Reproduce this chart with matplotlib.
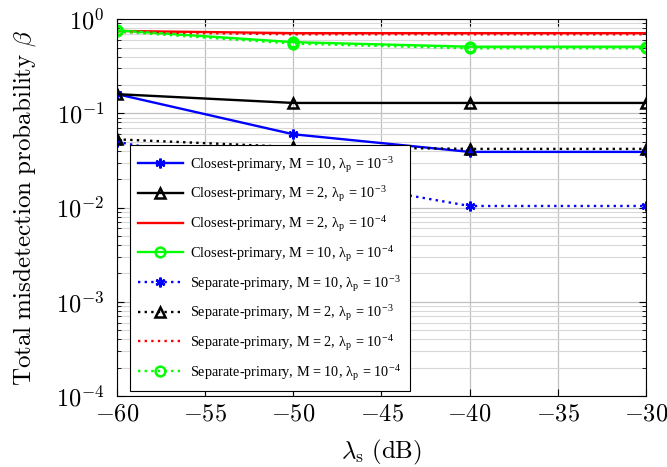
import numpy as np
import matplotlib
matplotlib.use('Agg')
import matplotlib.pyplot as plt
from matplotlib.ticker import FixedLocator, FuncFormatter, LogLocator, NullFormatter

plt.rcParams['font.family'] = ['Liberation Serif', 'DejaVu Serif']
plt.rcParams['mathtext.fontset'] = 'cm'

# lambda_s in dB
lam_s = [-60, -50, -40, -30]

# closest-primary
closest_m10_p3 = [0.16, 0.060, 0.039, 0.039]
closest_m2_p3 = [0.16, 0.129, 0.129, 0.129]
closest_m2_p4 = [0.75, 0.71, 0.71, 0.71]
closest_m10_p4 = [0.76, 0.57, 0.51, 0.51]

# separate-primary
separate_m10_p3 = [0.050, 0.022, 0.0104, 0.0104]
separate_m2_p3 = [0.053, 0.044, 0.042, 0.042]
separate_m2_p4 = [0.73, 0.69, 0.69, 0.69]
separate_m10_p4 = [0.74, 0.55, 0.49, 0.49]

labels = [
    r'Closest-primary, M = 10, λ$_\mathregular{p}$ = 10$^\mathregular{-3}$',
    r'Closest-primary, M = 2, λ$_\mathregular{p}$ = 10$^\mathregular{-3}$',
    r'Closest-primary, M = 2, λ$_\mathregular{p}$ = 10$^\mathregular{-4}$',
    r'Closest-primary, M = 10, λ$_\mathregular{p}$ = 10$^\mathregular{-4}$',
    r'Separate-primary, M = 10, λ$_\mathregular{p}$ = 10$^\mathregular{-3}$',
    r'Separate-primary, M = 2, λ$_\mathregular{p}$ = 10$^\mathregular{-3}$',
    r'Separate-primary, M = 2, λ$_\mathregular{p}$ = 10$^\mathregular{-4}$',
    r'Separate-primary, M = 10, λ$_\mathregular{p}$ = 10$^\mathregular{-4}$',
]

asterisk = (6, 2, 0)
dots = (0, (1, 1.8))


def _main():
    fig = plt.figure(figsize=(6.67, 4.67), dpi=100)
    ax = fig.add_axes([0.1754, 0.152, 0.793, 0.807])

    kw = dict(lw=1.7, ms=7, mew=1.8, mfc='none')
    ax.plot(lam_s, closest_m10_p3, color='#0000ff', marker=asterisk, label=labels[0], **kw)
    ax.plot(lam_s, closest_m2_p3, color='black', marker='^', label=labels[1], **kw)
    ax.plot(lam_s, closest_m2_p4, color='#ff0000', label=labels[2], **kw)
    ax.plot(lam_s, closest_m10_p4, color='#00ff00', marker='o', label=labels[3], **kw)

    ax.plot(lam_s, separate_m10_p3, color='#0000ff', ls=dots, marker=asterisk, label=labels[4], **kw)
    ax.plot(lam_s, separate_m2_p3, color='black', ls=dots, marker='^', label=labels[5], **kw)
    ax.plot(lam_s, separate_m2_p4, color='#ff0000', ls=dots, label=labels[6], **kw)
    ax.plot(lam_s, separate_m10_p4, color='#00ff00', ls=dots, marker='o', label=labels[7], **kw)

    ax.set_yscale('log')
    ax.set_xlim(-60, -30)
    ax.set_ylim(1e-4, 1)

    ax.xaxis.set_major_locator(FixedLocator([-60, -55, -50, -45, -40, -35, -30]))
    ax.xaxis.set_major_formatter(FuncFormatter(lambda v, p: r'$%d$' % v))
    ax.yaxis.set_major_locator(FixedLocator([1e-4, 1e-3, 1e-2, 1e-1, 1]))
    ax.yaxis.set_major_formatter(FuncFormatter(lambda v, p: r'$10^{%d}$' % round(np.log10(v))))
    ax.yaxis.set_minor_locator(LogLocator(base=10, subs=np.arange(2, 10), numticks=20))
    ax.yaxis.set_minor_formatter(NullFormatter())

    ax.tick_params(which='both', direction='in', top=True, right=True, labelsize=17.5)
    ax.tick_params(which='major', length=5)
    ax.tick_params(which='minor', length=3)
    ax.tick_params(axis='y', which='major', pad=9)
    ax.tick_params(axis='x', which='major', pad=6)

    ax.grid(True, which='major', color='#c0c0c0', lw=0.9)
    ax.grid(True, which='minor', axis='y', color='#d8d8d8', lw=0.8)
    ax.set_axisbelow(True)

    ax.set_xlabel(r'$\lambda_\mathrm{s}\ \mathrm{(dB)}$', fontsize=18, labelpad=9)
    ax.set_ylabel(r'$\mathrm{Total\ misdetection\ probability}\ \beta$', fontsize=18,
                  labelpad=13)

    leg = ax.legend(loc='lower left', bbox_to_anchor=(0.024, 0.013), fontsize=10.3,
                    fancybox=False, framealpha=1, edgecolor='black',
                    handlelength=3.1, handletextpad=0.5, labelspacing=0.62,
                    borderpad=0.6, borderaxespad=0)
    leg.get_frame().set_linewidth(0.8)

    fig.savefig('out.png', dpi=100)


if __name__ == '__main__':
    _main()
